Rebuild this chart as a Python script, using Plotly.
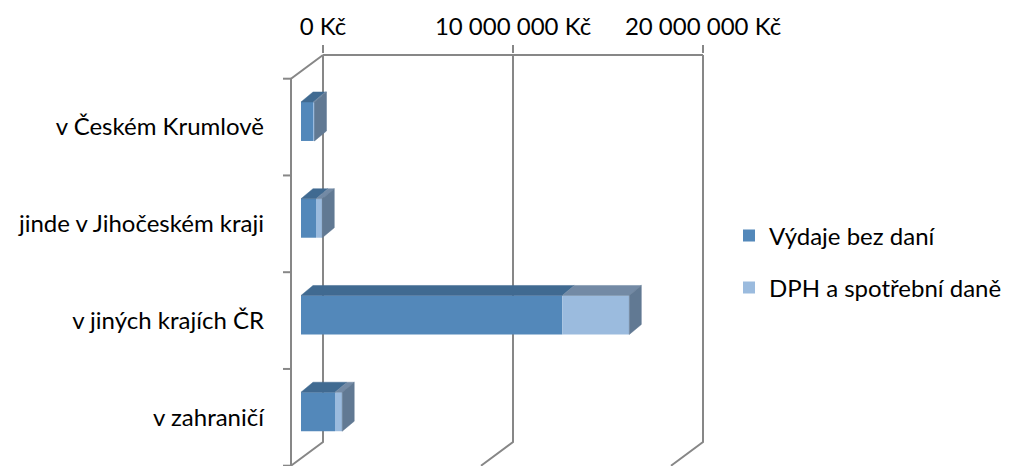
import plotly.graph_objects as go

# ---------------- data ----------------
categories = ["v Českém Krumlově", "jinde v Jihočeském kraji", "v jiných krajích ČR", "v zahraničí"]
vydaje_bez_dani = [650_000, 790_000, 13_750_000, 1_790_000]
dph_a_spotrebni_dane = [60_000, 330_000, 3_530_000, 380_000]
series_names = ["Výdaje bez daní", "DPH a spotřební daně"]
x_tick_values = [0, 10_000_000, 20_000_000]
x_tick_text = [f"{v:,}".replace(",", " ") + " Kč" for v in x_tick_values]

# ---------------- geometry (pixel based) ----------------
W, H = 1009, 466
PLOT_L, PLOT_R, PLOT_T, PLOT_B = 275, 720, 54, 466
ZERO_PX = 323          # back-wall zero line
BACK_TOP_PX = 55       # back-wall top edge
PX_PER_KC = 19.0 / 1_000_000
ROW_PX = 96.75


def kc(px):
    return px / PX_PER_KC


def rows(px):
    return px / ROW_PX


N = len(categories)
DX, DY = kc(-32), rows(23.7)          # floor depth vector (back -> front)
FX, FY = kc(-22), 0.187               # bar front face offset from back wall
BDX, BDY = kc(12), rows(-10)          # bar depth (front -> back)
BAR_W = rows(39)

x_range = [kc(PLOT_L - ZERO_PX), kc(PLOT_R - ZERO_PX)]
y_range = [rows(PLOT_B - BACK_TOP_PX), rows(PLOT_T - BACK_TOP_PX)]

BLUE_FRONT = "#5388BA"
BLUE_TOP = "#406A91"
LIGHT_FRONT = "#9BBBDE"
LIGHT_TOP = "#738AA5"
SIDE = "#617993"
GRID = "#878787"
FONT = dict(family="Lato, Carlito, 'Open Sans', sans-serif", size=24, color="#000000")

fig = go.Figure()

centers = [i + 0.5 + FY for i in range(N)]
base1 = [FX] * N
base2 = [FX + v for v in vydaje_bez_dani]

fig.add_bar(y=centers, x=vydaje_bez_dani, base=base1, orientation="h", width=BAR_W,
            marker=dict(color=BLUE_FRONT, line_width=0), name=series_names[0],
            legend="legend", hoverinfo="skip")
fig.add_bar(y=centers, x=dph_a_spotrebni_dane, base=base2, orientation="h", width=BAR_W,
            marker=dict(color=LIGHT_FRONT, line_width=0), name=series_names[1],
            legend="legend2", hoverinfo="skip")


def polys(color, pts_list):
    xs, ys = [], []
    for pts in pts_list:
        for (x, y) in pts:
            xs.append(x)
            ys.append(y)
        xs.append(pts[0][0]); ys.append(pts[0][1])
        xs.append(None); ys.append(None)
    fig.add_scatter(x=xs, y=ys, mode="lines", fill="toself", fillcolor=color,
                    line=dict(color=color, width=0.5), showlegend=False, hoverinfo="skip")


blue_tops, light_tops, sides = [], [], []
for i in range(N):
    c = centers[i]
    yt, yb = c - BAR_W / 2, c + BAR_W / 2
    x0 = FX
    x1 = FX + vydaje_bez_dani[i]
    x2 = x1 + dph_a_spotrebni_dane[i]
    blue_tops.append([(x0, yt), (x1, yt), (x1 + BDX, yt + BDY), (x0 + BDX, yt + BDY)])
    light_tops.append([(x1, yt), (x2, yt), (x2 + BDX, yt + BDY), (x1 + BDX, yt + BDY)])
    sides.append([(x2, yt), (x2 + BDX, yt + BDY), (x2 + BDX, yb + BDY), (x2, yb)])

polys(BLUE_TOP, blue_tops)
polys(LIGHT_TOP, light_tops)
polys(SIDE, sides)

# ---------------- walls / gridlines ----------------
shapes = []
line = dict(color=GRID, width=2)
for tv in x_tick_values:
    shapes.append(dict(type="path", xref="x", yref="y", layer="below", line=line,
                       path=f"M {tv},0 L {tv},{N} L {tv + DX},{N + DY}"))
shapes.append(dict(type="line", xref="x", yref="y", layer="below", line=line,
                   x0=x_tick_values[0], y0=0, x1=x_tick_values[-1], y1=0))
shapes.append(dict(type="path", xref="x", yref="y", layer="below", line=line,
                   path=f"M 0,0 L {DX},{DY} L {DX},{N + DY}"))
for i in range(N + 1):
    shapes.append(dict(type="line", xref="x", yref="y", layer="below", line=line,
                       x0=DX - kc(8), y0=i + DY, x1=DX, y1=i + DY))

fig.update_layout(
    width=W, height=H, autosize=False,
    margin=dict(l=PLOT_L, r=W - PLOT_R, t=PLOT_T, b=H - PLOT_B, pad=0, autoexpand=False),
    paper_bgcolor="white", plot_bgcolor="white",
    barmode="overlay",
    font=FONT, shapes=shapes,
    xaxis=dict(side="top", range=x_range, tickmode="array", tickvals=x_tick_values,
               ticktext=x_tick_text, ticks="outside", ticklen=8, tickwidth=2,
               tickcolor=GRID, showgrid=False, zeroline=False, showline=False,
               tickfont=FONT, ticklabelstandoff=0, automargin=False),
    yaxis=dict(range=y_range, tickmode="array", tickvals=[i + 0.5 + DY for i in range(N)],
               ticktext=categories, ticks="", showgrid=False, zeroline=False, showline=False,
               tickfont=FONT, ticklabelstandoff=10, automargin=False),
    legend=dict(x=729 / W, y=1 - 236 / H, xref="container", yref="container",
                xanchor="left", yanchor="middle", font=FONT, bgcolor="rgba(0,0,0,0)"),
    legend2=dict(x=729 / W, y=1 - 288 / H, xref="container", yref="container",
                 xanchor="left", yanchor="middle", font=FONT, bgcolor="rgba(0,0,0,0)"),
)

fig.write_html("out.html", config={"displayModeBar": False},
               post_script="document.body.style.margin='0';")
